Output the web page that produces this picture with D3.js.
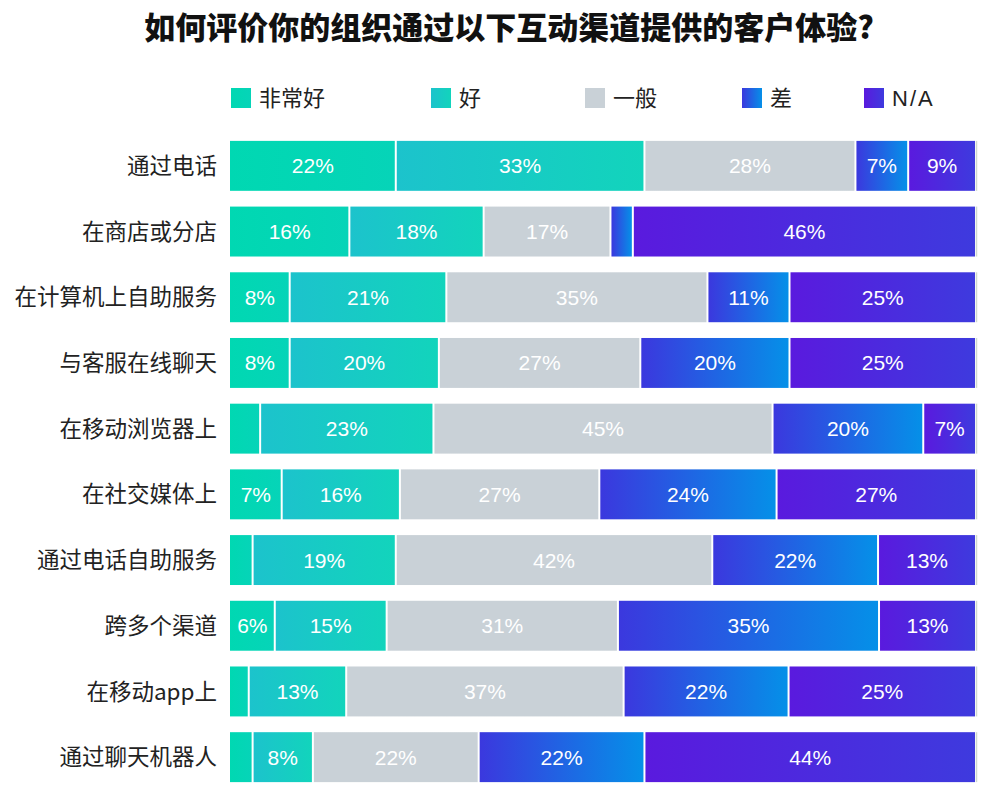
<!DOCTYPE html>
<html>
<head>
<meta charset="utf-8">
<script src="https://cdn.jsdelivr.net/npm/d3@7"></script>
<style>
  body { margin: 0; background: #fff; }
  #canvas { width: 1000px; height: 800px; }
  text { font-family: "Liberation Sans", Arial, sans-serif; }
  .cjk { font-family: "Noto Sans CJK SC", sans-serif; }
</style>
</head>
<body>
<div id="canvas" class="canvas"></div>
<script>
var title = '如何评价你的组织通过以下互动渠道提供的客户体验?';
var categories = ['通过电话', '在商店或分店', '在计算机上自助服务', '与客服在线聊天', '在移动浏览器上',
  '在社交媒体上', '通过电话自助服务', '跨多个渠道', '在移动app上', '通过聊天机器人'];
var seriesNames = ['非常好', '好', '一般', '差', 'N/A'];
var veryGood = [22, 16, 8, 8, 4, 7, 3, 6, 2.5, 3];
var good     = [33, 18, 21, 20, 23, 16, 19, 15, 13, 8];
var neutral  = [28, 17, 35, 27, 45, 27, 42, 31, 37, 22];
var poor     = [7, 3, 11, 20, 20, 24, 22, 35, 22, 22];
var na       = [9, 46, 25, 25, 7, 27, 13, 13, 25, 44];
// labels hidden on the thin slices
var showLabel = [
  [1, 1, 1, 1, 1], [1, 1, 1, 0, 1], [1, 1, 1, 1, 1], [1, 1, 1, 1, 1], [0, 1, 1, 1, 1],
  [1, 1, 1, 1, 1], [0, 1, 1, 1, 1], [1, 1, 1, 1, 1], [0, 1, 1, 1, 1], [0, 1, 1, 1, 1]
];

var series = [veryGood, good, neutral, poor, na];

var m = {t: 133, r: 24, b: 10, l: 230},
    W = 1000, H = 800,
    w = W - m.l - m.r,
    h = 790 - m.t;

var svg = d3.select('.canvas').append('svg')
    .attr('width', W).attr('height', H);

var defs = svg.append('defs');
var grads = [
  ['g0', '#00d8b2', '#06d4b8'],
  ['g1', '#1cc3cc', '#12d4bc'],
  ['g2', '#c9d1d7', '#c9d1d7'],
  ['g3', '#3b38de', '#0590e8'],
  ['g4', '#5a1ade', '#3e3ade']
];
grads.forEach(function(g) {
  var lg = defs.append('linearGradient').attr('id', g[0])
      .attr('x1', '0%').attr('x2', '100%').attr('y1', '0%').attr('y2', '0%');
  lg.append('stop').attr('offset', '0%').attr('stop-color', g[1]);
  lg.append('stop').attr('offset', '100%').attr('stop-color', g[2]);
});

svg.append('text')
    .attr('class', 'cjk')
    .attr('x', 509).attr('y', 39)
    .attr('text-anchor', 'middle')
    .style('font-size', '31px').style('font-weight', 900)
    .style('fill', '#111')
    .text(title);

// legend
var legendX = [231, 431, 585, 742, 864];
var legend = svg.append('g').selectAll('g').data(seriesNames).enter().append('g')
    .attr('transform', function(d, i) { return 'translate(' + legendX[i] + ',88)'; });
legend.append('rect').attr('width', 20).attr('height', 20)
    .attr('fill', function(d, i) { return 'url(#g' + i + ')'; });
legend.append('text')
    .attr('class', function(d) { return d === 'N/A' ? null : 'cjk'; })
    .attr('x', 28).attr('y', 10).attr('dy', '0.36em')
    .style('font-size', '22px').style('fill', '#222')
    .style('letter-spacing', function(d) { return d === 'N/A' ? '2px' : null; })
    .text(function(d) { return d; });

var y = d3.scaleBand().domain(categories).range([0, h]).paddingInner(0.24).paddingOuter(0.12);

var plot = svg.append('g').attr('transform', 'translate(' + m.l + ',' + m.t + ')');

plot.selectAll('.cat').data(categories).enter().append('text')
    .attr('class', 'cjk')
    .attr('x', -13).attr('y', function(d) { return y(d) + y.bandwidth() / 2; })
    .attr('dy', '0.36em').attr('text-anchor', 'end')
    .style('font-size', '22.5px').style('fill', '#222')
    .text(function(d) { return d; });

categories.forEach(function(cat, r) {
  var vals = series.map(function(s) { return s[r]; });
  var total = d3.sum(vals);
  var x = d3.scaleLinear().domain([0, total]).range([0, w]);
  var acc = 0;
  var segs = vals.map(function(v, i) {
    var s = {v: v, i: i, x0: acc, x1: acc + v};
    acc += v;
    return s;
  });
  var row = plot.append('g').attr('transform', 'translate(0,' + y(cat) + ')');
  row.selectAll('rect').data(segs).enter().append('rect')
      .attr('x', function(d) { return x(d.x0) + (d.i ? 1 : 0); })
      .attr('width', function(d) { return Math.max(0, x(d.x1) - x(d.x0) - (d.i ? 2 : 1)); })
      .attr('height', y.bandwidth())
      .attr('fill', function(d) { return 'url(#g' + d.i + ')'; });
  row.append('line')
      .attr('x1', w + 0.5).attr('x2', w + 0.5).attr('y1', 0).attr('y2', y.bandwidth())
      .attr('stroke', '#cfd8cf').attr('stroke-width', 1.5);
  row.selectAll('.lbl').data(segs.filter(function(d) { return showLabel[r][d.i]; })).enter().append('text')
      .attr('x', function(d) { return (x(d.x0) + x(d.x1)) / 2; })
      .attr('y', y.bandwidth() / 2).attr('dy', '0.36em')
      .attr('text-anchor', 'middle')
      .style('font-size', '21px').style('fill', '#fff')
      .text(function(d) { return d.v + '%'; });
});
</script>
</body>
</html>
